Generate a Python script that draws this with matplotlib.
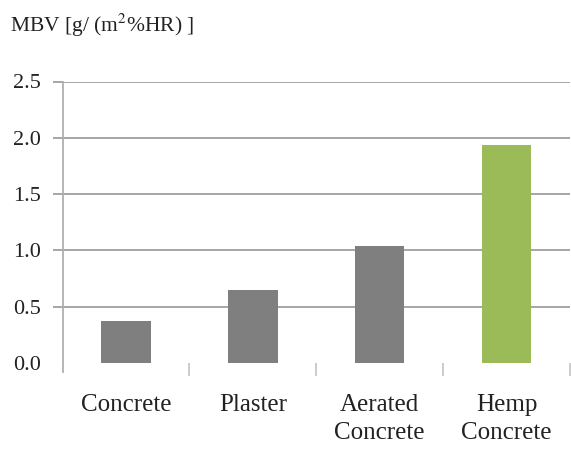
import numpy as np
import matplotlib
matplotlib.use('Agg')
import matplotlib.pyplot as plt

# Moisture buffer values
materials = ['Concrete', 'Plaster', 'Aerated\nConcrete', 'Hemp\nConcrete']
mbv = [0.37, 0.65, 1.04, 1.94]
bar_colors = ['#7f7f7f', '#7f7f7f', '#7f7f7f', '#9bbb59']
y_ticks = [0.0, 0.5, 1.0, 1.5, 2.0, 2.5]

plt.rcParams['font.family'] = ['Liberation Serif', 'DejaVu Serif']
plt.rcParams['mathtext.fontset'] = 'stix'

fig = plt.figure(figsize=(5.71, 4.51), dpi=100)
ax = fig.add_axes([62.5 / 571, 1 - 363 / 451, (570 - 62.5) / 571, (363 - 81.5) / 451])

x = np.arange(len(materials))
ax.bar(x, mbv, width=0.39, color=bar_colors, zorder=3)

ax.set_xlim(-0.5, len(materials) - 0.5)
ax.set_ylim(0, 2.5)

# horizontal gridlines (not at zero)
for v in y_ticks[1:]:
    ax.axhline(v, color='#a6a6a6', lw=1.4, zorder=1)

ax.set_yticks(y_ticks)
ax.set_yticklabels([f'{v:.1f}' for v in y_ticks], fontsize=16, color='#222222')
ax.tick_params(axis='y', length=7.5, width=1.4, color='#a6a6a6', pad=8)
ax.yaxis.get_major_ticks()[0].tick1line.set_visible(False)

# category labels at centres, separators at boundaries
ax.set_xticks(x)
ax.set_xticklabels(materials, fontsize=18, color='#222222', linespacing=1.4)
ax.tick_params(axis='x', which='major', length=0, pad=22)
ax.set_xticks(x + 0.5, minor=True)
ax.tick_params(axis='x', which='minor', length=9, width=1.3, color='#c8c8c8')

for s in ['top', 'right', 'bottom']:
    ax.spines[s].set_visible(False)
ax.spines['left'].set_color('#b0b0b0')
ax.spines['left'].set_linewidth(1.3)
ax.spines['left'].set_bounds(-0.08, 2.5)

fig.text(10 / 571, 1 - 32 / 451, r'MBV [g/ (m$^{2}$%HR) ]', fontsize=15.5,
         color='#222222', va='baseline', ha='left')

fig.savefig('out.png', dpi=100)
